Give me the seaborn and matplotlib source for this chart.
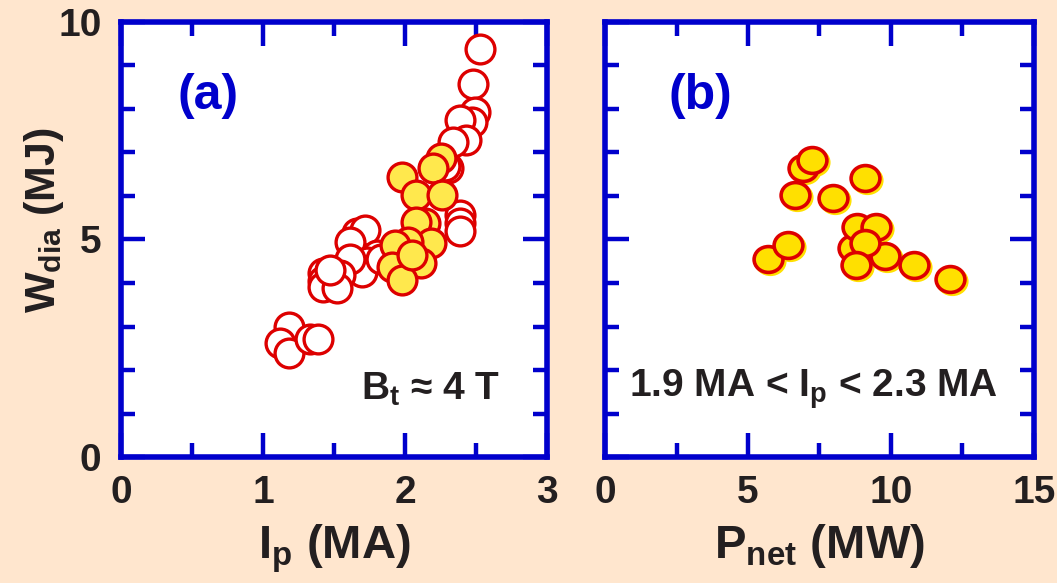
import matplotlib
matplotlib.use("Agg")
import matplotlib.pyplot as plt
import matplotlib.transforms as mtransforms
from matplotlib.path import Path
import seaborn as sns
import pandas as pd

# Stored energy vs plasma current (open: all shots, filled: 1.9-2.3 MA subset)
ip_open = [2.53, 2.48, 2.49, 2.47, 2.39, 2.43, 2.34, 2.30, 2.28, 2.39, 2.39, 2.39,
           1.66, 1.72, 1.61, 1.80, 1.73, 1.70, 1.61, 1.54, 1.42, 1.42, 1.42, 1.52,
           1.18, 1.12, 1.18, 1.33, 1.39, 1.83, 1.47]
w_open = [9.38, 8.57, 7.93, 7.70, 7.75, 7.29, 7.24, 6.64, 6.70, 5.56, 5.38, 5.20,
          5.15, 5.22, 4.94, 4.64, 4.48, 4.25, 4.55, 4.18, 4.23, 4.05, 3.91, 3.88,
          2.99, 2.62, 2.39, 2.72, 2.72, 4.55, 4.30]
ip_fill = [2.25, 2.20, 1.98, 2.08, 2.26, 2.14, 2.08, 2.18, 2.02, 1.93, 2.11, 1.91,
           1.98, 2.05]
w_fill = [6.87, 6.64, 6.44, 6.02, 6.02, 5.38, 5.40, 4.92, 4.94, 4.87, 4.46, 4.37,
          4.07, 4.65]

# Stored energy vs net heating power for the 1.9-2.3 MA subset
p_net = [5.70, 6.40, 6.64, 6.92, 7.24, 7.97, 9.09, 8.67, 9.79, 8.81, 9.48, 9.09,
         8.78, 10.80, 12.06]
w_b = [4.55, 4.87, 6.02, 6.64, 6.83, 5.95, 6.41, 4.80, 4.62, 5.29, 5.29, 4.92,
       4.41, 4.41, 4.09]

xticks_a = [0, 1, 2, 3]
xticks_b = [0, 5, 10, 15]
yticks = [0, 5, 10]

BG = "#FFE6CE"
BLUE = "#0000CC"
RED = "#DD0000"
YEL_A = "#FFE84D"
YEL_B = "#FFE000"
INK = "#231F20"

sns.set_theme(style="ticks")
plt.rcParams["font.family"] = ["Liberation Sans", "DejaVu Sans"]
plt.rcParams["font.weight"] = "bold"
plt.rcParams["mathtext.fontset"] = "custom"
plt.rcParams["mathtext.rm"] = "Liberation Sans:bold"
plt.rcParams["mathtext.it"] = "Liberation Sans:bold"
plt.rcParams["mathtext.bf"] = "Liberation Sans:bold"
plt.rcParams["mathtext.default"] = "rm"

fig = plt.figure(figsize=(10.57, 5.83), dpi=100, facecolor=BG)
ax_a = fig.add_axes([0.1145, 0.2161, 0.4030, 0.7462])
ax_b = fig.add_axes([0.5724, 0.2161, 0.4058, 0.7462])

df_open = pd.DataFrame({"ip": ip_open, "w": w_open})
df_fill = pd.DataFrame({"ip": ip_fill, "w": w_fill})
df_b = pd.DataFrame({"p": p_net, "w": w_b})

# slightly wide ellipse marker for panel (b)
circ = Path.unit_circle()
ellipse = Path(circ.vertices * [1.08, 0.97], circ.codes)

msize = 430
sns.scatterplot(data=df_open, x="ip", y="w", ax=ax_a, s=msize, color="white",
                edgecolor=RED, linewidth=2.4, zorder=3)
sns.scatterplot(data=df_fill, x="ip", y="w", ax=ax_a, s=msize, color=YEL_A,
                edgecolor=RED, linewidth=2.4, zorder=4)

# yellow drop shadow under each filled marker in panel (b)
sns.scatterplot(data=df_b, x="p", y="w", ax=ax_b, s=msize, color=YEL_B, marker=ellipse,
                edgecolor=YEL_B, linewidth=2.4, zorder=3)
shadow = ax_b.collections[-1]
shadow.set_offset_transform(ax_b.transData +
                            mtransforms.ScaledTranslation(2 / 100, -2 / 100, fig.dpi_scale_trans))
sns.scatterplot(data=df_b, x="p", y="w", ax=ax_b, s=msize, color=YEL_B, marker=ellipse,
                edgecolor=RED, linewidth=2.6, zorder=4)

for ax, xt, xlim in [(ax_a, xticks_a, (0, 3)), (ax_b, xticks_b, (0, 15))]:
    ax.set_facecolor("white")
    ax.set_xlim(*xlim)
    ax.set_ylim(0, 10)
    ax.set_xticks(xt)
    ax.set_yticks(yticks)
    step = xt[1] - xt[0]
    ax.set_xticks([v + step / 2 for v in xt[:-1]], minor=True)
    ax.set_yticks([v for v in range(1, 10) if v != 5], minor=True)
    ax.tick_params(which="both", direction="in", top=True, right=True,
                   color=BLUE, width=3.2)
    ax.tick_params(which="major", length=17, labelsize=28, labelcolor=INK)
    ax.tick_params(axis="x", which="major", pad=13)
    ax.tick_params(axis="y", which="major", pad=14)
    ax.tick_params(which="minor", length=10)
    for lbl in ax.get_xticklabels() + ax.get_yticklabels():
        lbl.set_fontweight("bold")
    for sp in ax.spines.values():
        sp.set_color(BLUE)
        sp.set_linewidth(4)
    ax.set_xlabel("")
    ax.set_ylabel("")

ax_a.set_yticklabels(["0", "5", "10"])
ax_b.set_yticklabels([])

ax_a.set_ylabel(r"W$_{dia}$ (MJ)", fontsize=31, fontweight="bold", color=INK)
ax_a.yaxis.set_label_coords(-0.13, 0.545)
ax_a.set_xlabel(r"I$_{p}$ (MA)", fontsize=34, fontweight="bold", color=INK, labelpad=8)
ax_b.set_xlabel(r"P$_{net}$ (MW)", fontsize=34, fontweight="bold", color=INK, labelpad=8)

ax_a.text(0.205, 0.83, "(a)", transform=ax_a.transAxes, fontsize=36,
          fontweight="bold", color=BLUE, ha="center", va="center")
ax_b.text(0.222, 0.83, "(b)", transform=ax_b.transAxes, fontsize=36,
          fontweight="bold", color=BLUE, ha="center", va="center")
ax_a.text(0.89, 0.155, r"B$_{t}$ ≈ 4 T", transform=ax_a.transAxes, fontsize=28,
          fontweight="bold", color=INK, ha="right", va="center")
ax_b.text(0.487, 0.155, r"1.9 MA < I$_{p}$ < 2.3 MA", transform=ax_b.transAxes,
          fontsize=28, fontweight="bold", color=INK, ha="center", va="center")

fig.savefig("out.png", dpi=100, facecolor=BG)
